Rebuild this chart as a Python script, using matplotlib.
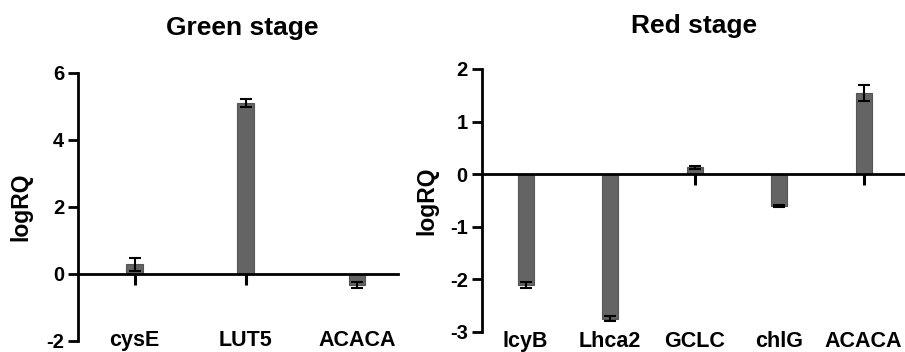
import matplotlib
matplotlib.use("Agg")
import matplotlib.pyplot as plt
import matplotlib.transforms as mtransforms

plt.rcParams['font.family'] = ['Liberation Sans', 'DejaVu Sans']
plt.rcParams['font.weight'] = 'bold'

# green stage data
green_genes = ['cysE', 'LUT5', 'ACACA']
green_vals = [0.28, 5.10, -0.34]
green_err = [0.20, 0.12, 0.10]

# red stage data
red_genes = ['lcyB', 'Lhca2', 'GCLC', 'chlG', 'ACACA']
red_vals = [-2.11, -2.75, 0.13, -0.61, 1.54]
red_err = [0.05, 0.055, 0.03, 0.02, 0.15]

bar_color = '#646464'

fig = plt.figure(figsize=(9.05, 3.52), dpi=100)
ax1 = fig.add_axes([0.0862, 0.032, 0.3536, 0.7615])
ax2 = fig.add_axes([0.5323, 0.0577, 0.4677, 0.7463])


def draw_panel(ax, genes, vals, errs, ylim, yticks, width, xlim, label_y):
    x = list(range(len(genes)))
    ax.bar(x, vals, width=width, color=bar_color, edgecolor='#555555', linewidth=0.8, zorder=2)
    ax.errorbar(x, vals, yerr=errs, fmt='none', ecolor='black', elinewidth=1.5,
                capsize=4, capthick=1.5, zorder=3)
    ax.set_xlim(*xlim)
    ax.set_ylim(*ylim)
    ax.set_yticks(yticks)
    ax.set_yticklabels([str(t) for t in yticks])
    ax.spines['top'].set_visible(False)
    ax.spines['right'].set_visible(False)
    ax.spines['left'].set_linewidth(2)
    ax.spines['bottom'].set_position(('data', 0))
    ax.spines['bottom'].set_linewidth(2)
    ax.spines['bottom'].set_zorder(4)
    ax.spines['left'].set_bounds(ylim[0], ylim[1])
    ax.set_xticks(x)
    ax.set_xticklabels([''] * len(x))
    ax.tick_params(axis='x', direction='out', length=8, width=2.2)
    ax.tick_params(axis='y', direction='out', length=7, width=2, pad=3, labelsize=14.5)
    trans = mtransforms.blended_transform_factory(ax.transData, ax.transAxes)
    for xi, g in zip(x, genes):
        ax.text(xi, label_y, g, transform=trans, ha='center', va='baseline',
                fontsize=15.5, fontweight='bold', clip_on=False)
    ax.set_ylabel('logRQ', fontsize=16.5, fontweight='bold')


draw_panel(ax1, green_genes, green_vals, green_err, (-2, 6), [-2, 0, 2, 4, 6],
           0.15, (-0.51, 2.37), -0.02)
draw_panel(ax2, red_genes, red_vals, red_err, (-3, 2), [-3, -2, -1, 0, 1, 2],
           0.19, (-0.52, 4.49), -0.059)

ax1.yaxis.set_label_coords(-0.144, 0.5)
ax2.yaxis.set_label_coords(-0.103, 0.5)

fig.text(0.268, 0.90, 'Green stage', ha='center', va='baseline', fontsize=19, fontweight='bold')
fig.text(0.767, 0.906, 'Red stage', ha='center', va='baseline', fontsize=19, fontweight='bold')

fig.savefig('out.png', dpi=100)
